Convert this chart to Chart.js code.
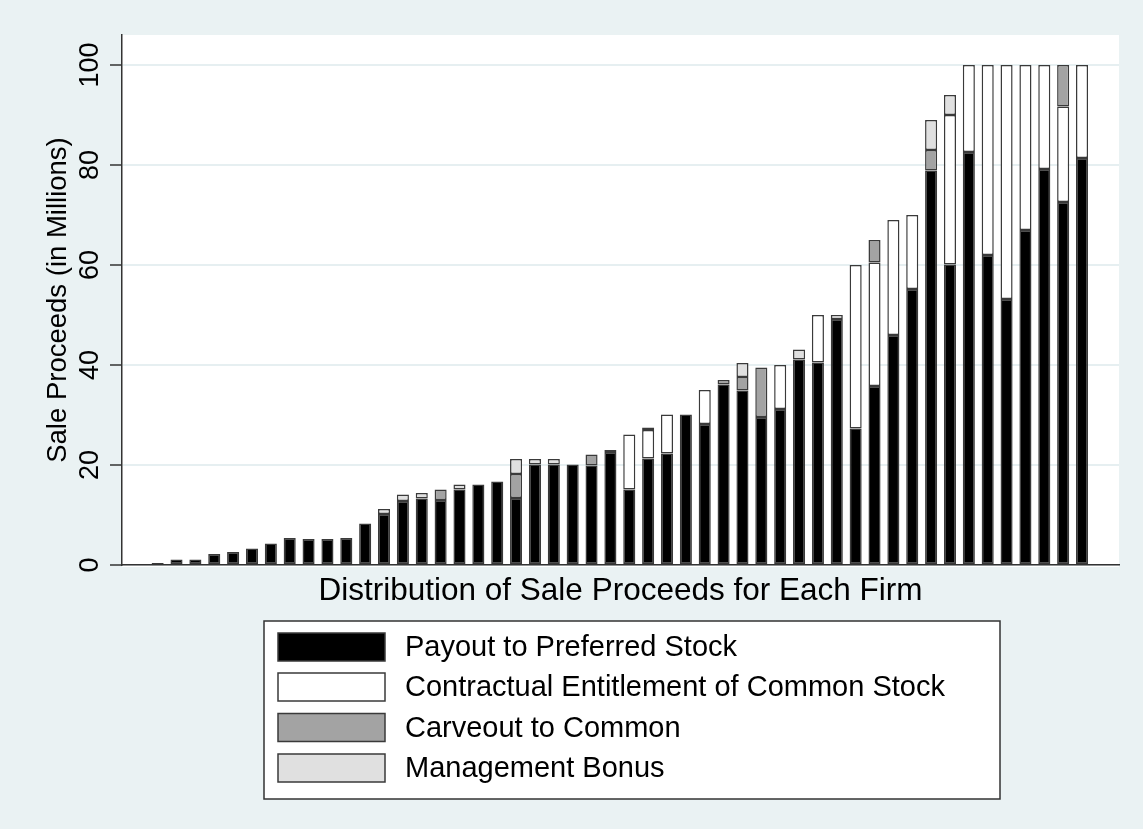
<!DOCTYPE html>
<html>
<head>
<meta charset="utf-8">
<script src="https://cdn.jsdelivr.net/npm/chart.js@4.4.1/dist/chart.umd.min.js"></script>
<style>
  html, body { margin: 0; padding: 0; background: #EAF2F3; }
  #wrap { width: 1143px; height: 829px; position: relative; }
</style>
</head>
<body>
<div id="wrap"><canvas id="c" width="1143" height="829"></canvas></div>
<script>
// ---- data (values in millions) ----
const firms = [1,2,3,4,5,6,7,8,9,10,11,12,13,14,15,16,17,18,19,20,21,22,23,24,25,26,27,28,29,30,31,32,33,34,35,36,37,38,39,40,41,42,43,44,45,46,47,48,49,50];
const preferred = [0.4,1.1,1.1,2.2,2.6,3.3,4.3,5.4,5.2,5.2,5.4,8.3,10.2,12.8,13.3,13.0,15.1,16.1,16.7,13.4,20.1,20.1,20.1,19.9,22.6,15.1,21.3,22.3,30.1,28.2,36.1,34.9,29.6,31.2,41.1,40.5,49.2,27.3,35.8,46.0,55.2,78.9,60.1,82.6,62.0,53.2,67.0,79.2,72.6,81.4];
const commonStock = [0,0,0,0,0,0,0,0,0,0,0,0,0,0,0,0,0,0,0,0,0,0,0,0,0,11.0,5.7,7.8,0,6.8,0,0,0,8.8,0,9.5,0.8,32.7,24.7,23.0,14.8,0,29.9,17.4,38.0,46.8,33.0,20.8,19.1,18.6];
const carveout = [0,0,0,0,0,0,0,0,0,0,0,0,0,0,0,2.1,0,0,0,4.8,0,0,0,2.2,0,0,0.5,0,0,0,0.9,2.7,9.9,0,0,0,0,0,4.5,0,0,4.1,0,0,0,0,0,0,8.3,0];
const bonus = [0,0,0,0,0,0,0,0,0,0,0,0,1.0,1.3,1.1,0,1.0,0,0,3.0,1.1,1.1,0,0,0.4,0,0,0,0,0,0,2.8,0,0,2.0,0,0,0,0,0,0,6.0,4.0,0,0,0,0,0,0,0];
const seriesNames = ["Payout to Preferred Stock","Contractual Entitlement of Common Stock","Carveout to Common","Management Bonus"];
const yTicks = [0,20,40,60,80,100];
const yTitle = "Sale Proceeds (in Millions)";
const xTitle = "Distribution of Sale Proceeds for Each Firm";

const fills = ["#000000","#FFFFFF","#A3A3A3","#E0E0E0"];
const FONT = '"Liberation Sans", Arial, sans-serif';

function pts(arr){ return arr.map((v,i)=>({x: firms[i], y: v})); }

const datasets = [preferred, commonStock, carveout, bonus].map((arr,k)=>({
  label: seriesNames[k],
  data: pts(arr),
  backgroundColor: fills[k],
  borderColor: "#3A3A3A",
  borderWidth: 1.5,
  borderSkipped: false,
  categoryPercentage: 1.0,
  barPercentage: 0.64
}));

const deco = {
  id: 'deco',
  beforeDraw(chart){
    const ctx = chart.ctx, a = chart.chartArea;
    ctx.save();
    ctx.fillStyle = '#EAF2F3';
    ctx.fillRect(0,0,chart.width,chart.height);
    ctx.fillStyle = '#FFFFFF';
    ctx.fillRect(a.left, a.top, a.right-a.left, a.bottom-a.top+2);
    ctx.restore();
  },
  afterDraw(chart){
    const ctx = chart.ctx, a = chart.chartArea, ys = chart.scales.y;
    ctx.save();
    // tick marks and rotated tick labels
    ctx.strokeStyle = '#333';
    ctx.lineWidth = 1.5;
    ctx.fillStyle = '#000';
    ctx.font = '27px ' + FONT;
    ctx.textAlign = 'center';
    ctx.textBaseline = 'middle';
    yTicks.forEach(v=>{
      const py = ys.getPixelForValue(v);
      ctx.beginPath();
      ctx.moveTo(a.left-12, py); ctx.lineTo(a.left, py); ctx.stroke();
      ctx.save();
      ctx.translate(91, py);
      ctx.rotate(-Math.PI/2);
      ctx.fillText(String(v), 0, 0);
      ctx.restore();
    });
    // y title
    ctx.save();
    ctx.translate(58, (a.top+a.bottom)/2 + 0);
    ctx.rotate(-Math.PI/2);
    ctx.font = '27.5px ' + FONT;
    ctx.fillText(yTitle, 0, 0);
    ctx.restore();
    // x title
    ctx.font = '31.5px ' + FONT;
    ctx.fillText(xTitle, (a.left+a.right)/2, 591);
    // legend
    const lx = 264, ly = 621, lw = 736, lh = 178;
    ctx.fillStyle = '#FFFFFF';
    ctx.fillRect(lx, ly, lw, lh);
    ctx.strokeStyle = '#333';
    ctx.lineWidth = 1.5;
    ctx.strokeRect(lx, ly, lw, lh);
    const rows = [647, 687, 727.5, 768];
    ctx.font = '29px ' + FONT;
    ctx.textAlign = 'left';
    chart.data.datasets.forEach((ds,k)=>{
      const cy = rows[k];
      ctx.fillStyle = ds.backgroundColor;
      ctx.fillRect(278, cy-14, 107, 28);
      ctx.strokeStyle = '#3A3A3A';
      ctx.strokeRect(278, cy-14, 107, 28);
      ctx.fillStyle = '#000';
      ctx.fillText(ds.label, 405, cy+1);
    });
    ctx.restore();
  }
};

new Chart(document.getElementById('c'), {
  type: 'bar',
  data: { datasets },
  options: {
    responsive: false,
    animation: false,
    devicePixelRatio: 1,
    layout: { padding: { left: 122, right: 24, top: 35, bottom: 264 } },
    plugins: { legend: { display: false }, tooltip: { enabled: false } },
    scales: {
      x: {
        type: 'linear', stacked: true, min: -0.89, max: 51.96, offset: false,
        ticks: { display: false },
        grid: { display: false, drawTicks: false, offset: false },
        border: { display: true, color: '#333', width: 1.5 },
        afterFit(s){ s.height = 0; }
      },
      y: {
        stacked: true, min: 0, max: 106,
        afterBuildTicks(s){ s.ticks = yTicks.map(v=>({value: v})); },
        ticks: { display: false },
        grid: { color: '#E6EFF1', lineWidth: 2, drawTicks: false },
        border: { display: true, color: '#333', width: 1.5 },
        afterFit(s){ s.width = 0; }
      }
    }
  },
  plugins: [deco]
});
</script>
</body>
</html>
